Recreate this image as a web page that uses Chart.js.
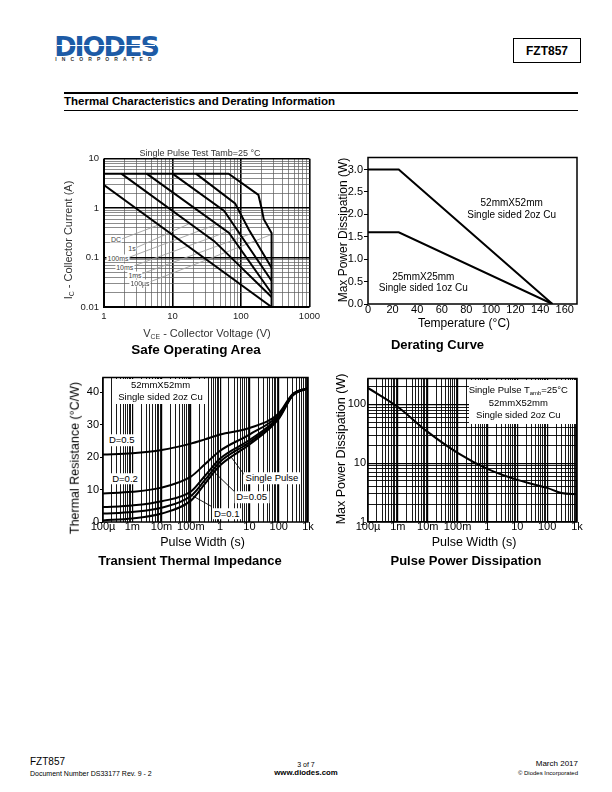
<!DOCTYPE html>
<html><head><meta charset="utf-8"><title>FZT857 Thermal Characteristics</title>
<script src="https://cdn.jsdelivr.net/npm/chart.js@4.4.1/dist/chart.umd.min.js"></script>
<style>
html,body{margin:0;padding:0;background:#fff;}
body{position:relative;width:612px;height:792px;overflow:hidden;font-family:"Liberation Sans",Arial,Helvetica,sans-serif;color:#000;}
canvas{position:absolute;}
.t{position:absolute;white-space:nowrap;line-height:1;}
.r{position:absolute;}
sub{font-size:62%;vertical-align:-0.3em;line-height:0;}
</style></head><body>
<script>
// ================= DATA =================
// Safe Operating Area: VCE (V) / IC (A)
const soaVceDC = [1, 280];
const soaIcDC = [2.93, 0.01];
const soaVce1s = [1.79, 40.7, 280];
const soaIc1s = [5, 0.215, 0.016];
const soaVce100ms = [4.2, 67, 280];
const soaIc100ms = [5, 0.316, 0.019];
const soaVce10ms = [10, 57, 280];
const soaIc10ms = [5, 0.88, 0.034];
const soaVce1ms = [22, 82, 130, 280];
const soaIc1ms = [5, 1.25, 0.37, 0.062];
const soaVce100us = [1, 66, 180, 200, 215, 280, 280];
const soaIc100us = [5, 5, 1.85, 1.0, 0.6, 0.316, 0.01];
const soaCurveNames = ['DC', '1s', '100ms', '10ms', '1ms', '100µs'];
const soaLeaderVce = [[1.8, 6.3], [2.88, 17.9], [2.21, 44.6], [2.52, 85], [3.29, 141], [4.6, 280]];
const soaLeaderIc = [[0.237, 0.46], [0.156, 0.49], [0.0986, 0.474], [0.0652, 0.389], [0.0451, 0.306], [0.0319, 0.294]];
const soaXTickLabels = ['1', '10', '100', '1000'];
const soaYTickLabels = ['0.01', '0.1', '1', '10'];

// Derating curve: temperature (°C) / max power (W)
const derTemp = [0, 25, 150];
const der52mm = [3.0, 3.0, 0];
const der25mm = [1.6, 1.6, 0];
const derXTicks = [0, 20, 40, 60, 80, 100, 120, 140, 160];
const derYTicks = [0, 0.5, 1.0, 1.5, 2.0, 2.5, 3.0];

// Transient thermal impedance: pulse width (s) / thermal resistance (°C/W)
const ttiPulse = [1e-4, 1e-3, 1e-2, 0.1, 0.3, 1, 10, 100, 300, 1000];
const ttiD05 = [20.8, 21.2, 22.2, 24.2, 25.5, 27.0, 29.0, 33.5, 39.5, 41.3];
const ttiD02 = [8.8, 9.3, 10.6, 14.0, 17.8, 22.0, 27.0, 33.0, 39.3, 41.3];
const ttiD01 = [4.6, 5.1, 6.4, 9.4, 14.2, 19.6, 25.3, 32.5, 39.2, 41.3];
const ttiD005 = [2.6, 3.1, 4.4, 8.0, 12.9, 18.6, 24.6, 32.2, 39.1, 41.3];
const ttiSingle = [0.5, 1.1, 2.6, 6.6, 11.8, 17.5, 23.9, 31.8, 39.0, 41.3];
const ttiLeaderX = [[2.4, 6.8], [0.7, 3.4], [0.082, 0.51]];
const ttiLeaderY = [[20.0, 14.5], [15.0, 9.0], [8.8, 4.8]];
const ttiYTicks = [0, 10, 20, 30, 40];
const pulseTickLabels = ['100µ', '1m', '10m', '100m', '1', '10', '100', '1k'];

// Pulse power dissipation: pulse width (s) / max power (W)
const ppdPulse = [1e-4, 1e-3, 1e-2, 0.1, 1, 10, 100, 300, 1000];
const ppdPower = [190, 90, 34, 15, 8.0, 5.2, 3.8, 3.1, 2.95];
const ppdYTickLabels = ['1', '10', '100'];

// ================= HELPERS =================
Chart.defaults.font.family = '"Liberation Sans", Arial, Helvetica, sans-serif';
Chart.defaults.color = '#000';

const isDecade = v => Math.abs(Math.log10(v) - Math.round(Math.log10(v))) < 1e-6;
function logTickValues(minExp, maxExp, maxVal) {
  const t = [];
  for (let e = minExp; e < maxExp; e++) for (let m = 1; m < 10; m++) t.push(parseFloat((m * Math.pow(10, e)).toPrecision(6)));
  t.push(Math.pow(10, maxExp));
  return t.filter(v => v <= maxVal * 1.0001);
}
function decLabel(v, minExp, labels) {
  if (!isDecade(v)) return '';
  const i = Math.round(Math.log10(v)) - minExp;
  return labels[i] !== undefined ? labels[i] : '';
}
const pts = (xs, ys) => xs.map((x, i) => ({ x: x, y: ys[i] }));
function curve(xs, ys, extra) {
  return Object.assign({ data: pts(xs, ys), showLine: true, borderColor: '#000', borderWidth: 2, pointRadius: 0, fill: false, tension: 0 }, extra || {});
}

const framePlugin = {
  id: 'frame',
  beforeDatasetsDraw(chart, args, opts) {
    const a = chart.chartArea, ctx = chart.ctx;
    ctx.save();
    ctx.strokeStyle = '#000';
    if (opts.sides === 'lb') {
      ctx.lineWidth = 2;
      ctx.beginPath();
      ctx.moveTo(a.left, a.top); ctx.lineTo(a.left, a.bottom); ctx.lineTo(a.right, a.bottom);
      ctx.stroke();
    } else {
      ctx.lineWidth = opts.w || 1.5;
      ctx.strokeRect(a.left, a.top, a.right - a.left, a.bottom - a.top);
    }
    ctx.restore();
  }
};

function makeChart(area, leftW, bottomH, padT, padR, datasets, scales, frameOpts) {
  const cv = document.createElement('canvas');
  const L = area[0] - leftW, T = area[1] - padT;
  const W = area[2] - area[0] + leftW + padR, H = area[3] - area[1] + padT + bottomH;
  cv.width = W; cv.height = H;
  cv.style.left = L + 'px'; cv.style.top = T + 'px';
  cv.style.width = W + 'px'; cv.style.height = H + 'px';
  document.body.appendChild(cv);
  scales.x.afterFit = s => { s.height = bottomH; };
  scales.y.afterFit = s => { s.width = leftW; };
  return new Chart(cv, {
    type: 'scatter',
    data: { datasets: datasets },
    options: {
      responsive: false, animation: false, devicePixelRatio: 1,
      layout: { padding: { left: 0, top: padT, right: padR, bottom: 0 } },
      plugins: { legend: { display: false }, tooltip: { enabled: false }, frame: frameOpts },
      scales: scales
    },
    plugins: [framePlugin]
  });
}

function txt(html, cx, cy, css, rot) {
  const d = document.createElement('div');
  d.className = 't';
  d.innerHTML = html;
  d.style.cssText += css || '';
  d.style.left = cx + 'px'; d.style.top = cy + 'px';
  d.style.transform = 'translate(-50%,-50%)' + (rot ? ' rotate(-90deg)' : '');
  document.body.appendChild(d);
  return d;
}
function ltxt(html, x, cy, css, anchorRight) {
  const d = txt(html, x, cy, css);
  d.style.transform = anchorRight ? 'translate(-100%,-50%)' : 'translate(0,-50%)';
  return d;
}
function rect(x, y, w, h, css) {
  const d = document.createElement('div');
  d.className = 'r';
  d.style.cssText = 'left:' + x + 'px;top:' + y + 'px;width:' + w + 'px;height:' + h + 'px;' + (css || '');
  document.body.appendChild(d);
  return d;
}

// ================= SAFE OPERATING AREA =================
const soaXT = logTickValues(0, 3, 1000), soaYT = logTickValues(-2, 1, 10);
const soaGrid = {
  color: c => (c.tick && isDecade(c.tick.value)) ? '#000' : '#5a5a5a',
  lineWidth: c => (c.tick && isDecade(c.tick.value)) ? 1.6 : 0.7,
  drawTicks: false
};
const soaSets = [
  curve(soaVceDC, soaIcDC), curve(soaVce1s, soaIc1s), curve(soaVce100ms, soaIc100ms),
  curve(soaVce10ms, soaIc10ms), curve(soaVce1ms, soaIc1ms), curve(soaVce100us, soaIc100us)
];
soaLeaderVce.forEach((xs, i) => soaSets.push(curve(xs, soaLeaderIc[i], { borderColor: '#a0a0a0', borderWidth: 0.9 })));
makeChart([104, 157, 311, 307], 40, 22, 8, 14, soaSets, {
  x: { type: 'logarithmic', min: 1, max: 1000,
       afterBuildTicks: s => { s.ticks = soaXT.map(v => ({ value: v })); },
       ticks: { autoSkip: false, maxRotation: 0, minRotation: 0, padding: 5, color: '#222', font: { size: 9.5, lineHeight: 1 }, callback: v => decLabel(v, 0, soaXTickLabels) },
       grid: soaGrid, border: { display: false } },
  y: { type: 'logarithmic', min: 0.01, max: 10,
       afterBuildTicks: s => { s.ticks = soaYT.map(v => ({ value: v })); },
       ticks: { autoSkip: false, padding: 5, color: '#222', font: { size: 9.5, lineHeight: 1 }, callback: v => decLabel(v, -2, soaYTickLabels) },
       grid: soaGrid, border: { display: false } }
}, { sides: 'lb' });

// ================= DERATING CURVE =================
makeChart([368, 157, 577, 304], 30, 16, 6, 6, [
  curve(derTemp, der52mm), curve(derTemp, der25mm)
], {
  x: { type: 'linear', min: 0, max: 170,
       afterBuildTicks: s => { s.ticks = derXTicks.map(v => ({ value: v })); },
       ticks: { autoSkip: false, maxRotation: 0, padding: 0, font: { size: 11, lineHeight: 1 }, callback: v => String(v) },
       grid: { display: false, drawTicks: false }, border: { display: false } },
  y: { type: 'linear', min: 0, max: 3.27,
       afterBuildTicks: s => { s.ticks = derYTicks.map(v => ({ value: v })); },
       ticks: { autoSkip: false, padding: 1, font: { size: 11, lineHeight: 1 }, callback: v => Number(v).toFixed(1) },
       grid: { drawOnChartArea: false, drawTicks: true, tickLength: 4, color: '#000', lineWidth: 1 }, border: { display: false } }
}, { w: 1.5 });

// ================= TRANSIENT THERMAL IMPEDANCE =================
const pulseXT = logTickValues(-4, 3, 1000);
const pulseGrid = { color: '#000', lineWidth: c => (c.tick && isDecade(c.tick.value)) ? 1.2 : 0.9, drawTicks: false };
const ttiSets = [
  curve(ttiPulse, ttiD05, { cubicInterpolationMode: 'monotone' }),
  curve(ttiPulse, ttiD02, { cubicInterpolationMode: 'monotone' }),
  curve(ttiPulse, ttiD01, { cubicInterpolationMode: 'monotone' }),
  curve(ttiPulse, ttiD005, { cubicInterpolationMode: 'monotone' }),
  curve(ttiPulse, ttiSingle, { cubicInterpolationMode: 'monotone' })
];
ttiLeaderX.forEach((xs, i) => ttiSets.push(curve(xs, ttiLeaderY[i], { borderWidth: 0.9 })));
makeChart([103, 377, 308, 522], 26, 16, 6, 10, ttiSets, {
  x: { type: 'logarithmic', min: 1e-4, max: 1000,
       afterBuildTicks: s => { s.ticks = pulseXT.map(v => ({ value: v })); },
       ticks: { autoSkip: false, maxRotation: 0, minRotation: 0, padding: -1, font: { size: 11, lineHeight: 1 }, callback: v => decLabel(v, -4, pulseTickLabels) },
       grid: pulseGrid, border: { display: false } },
  y: { type: 'linear', min: 0, max: 44.6,
       afterBuildTicks: s => { s.ticks = ttiYTicks.map(v => ({ value: v })); },
       ticks: { autoSkip: false, padding: 1, font: { size: 11, lineHeight: 1 }, callback: v => String(v) },
       grid: { drawOnChartArea: false, drawTicks: true, tickLength: 3, color: '#000', lineWidth: 1 }, border: { display: false } }
}, { w: 1.5 });

// ================= PULSE POWER DISSIPATION =================
const ppdYT = logTickValues(0, 3, 275);
makeChart([368, 377, 577, 522], 30, 16, 6, 10, [
  curve(ppdPulse, ppdPower, { cubicInterpolationMode: 'monotone' })
], {
  x: { type: 'logarithmic', min: 1e-4, max: 1000,
       afterBuildTicks: s => { s.ticks = pulseXT.map(v => ({ value: v })); },
       ticks: { autoSkip: false, maxRotation: 0, minRotation: 0, padding: -1, font: { size: 11, lineHeight: 1 }, callback: v => decLabel(v, -4, pulseTickLabels) },
       grid: pulseGrid, border: { display: false } },
  y: { type: 'logarithmic', min: 1, max: 275,
       afterBuildTicks: s => { s.ticks = ppdYT.map(v => ({ value: v })); },
       ticks: { autoSkip: false, padding: 2, font: { size: 11, lineHeight: 1 }, callback: v => decLabel(v, 0, ppdYTickLabels) },
       grid: pulseGrid, border: { display: false } }
}, { w: 1.5 });

// ================= PAGE TEXT =================
// header
txt('DIODES', 106, 45.5, 'font:bold 27px "DejaVu Sans",sans-serif;color:#1d5ba6;letter-spacing:-2px;');
rect(57, 44.6, 98, 1.1, 'background:#fff;');
txt('INCORPORATED', 106, 58.5, 'font:bold 5px "Liberation Sans",sans-serif;color:#333;letter-spacing:5.1px;');
rect(513, 38, 68, 25, 'border:1.5px solid #000;box-sizing:border-box;');
txt('FZT857', 547, 50.5, 'font:bold 12px "Liberation Sans",sans-serif;');
rect(64, 91.5, 514, 2.5, 'background:#000;');
ltxt('Thermal Characteristics and Derating Information', 64, 101, 'font:bold 11.5px "Liberation Sans",sans-serif;');
rect(64, 109.5, 514, 1, 'background:#000;');

// SOA texts
txt('Single Pulse Test Tamb=25 °C', 200, 152.5, 'font-size:9px;color:#333;background:#fff;padding:0 2px;');
const soaLabelPos = [[116, 239], [132, 248], [118, 258], [124.7, 267.3], [135, 275], [140, 282.7]];
soaCurveNames.forEach((n, i) => txt(n, soaLabelPos[i][0], soaLabelPos[i][1], 'font-size:7px;color:#444;background:#fff;padding:0 1px;'));
txt('I<sub>C</sub> - Collector Current (A)', 68, 240, 'font-size:11px;color:#333;', true);
txt('V<sub>CE</sub> - Collector Voltage (V)', 207, 332.5, 'font-size:11px;color:#333;');
txt('Safe Operating Area', 196, 349.5, 'font-weight:bold;font-size:13.5px;');

// Derating texts
txt('52mmX52mm', 511.7, 202.7, 'font-size:10px;background:#fff;');
txt('Single sided 2oz Cu', 511.7, 215, 'font-size:10px;background:#fff;');
txt('25mmX25mm', 423.3, 276.7, 'font-size:10px;');
txt('Single sided 1oz Cu', 423.3, 287.5, 'font-size:10px;');
txt('Max Power Dissipation (W)', 342.5, 230, 'font-size:12px;', true);
txt('Temperature (°C)', 464, 323.3, 'font-size:12px;');
txt('Derating Curve', 437.5, 343.5, 'font-weight:bold;font-size:13px;');

// TTI texts
rect(115, 378.5, 92, 25, 'background:#fff;');
txt('52mmX52mm', 160.5, 385, 'font-size:9.5px;');
txt('Single sided 2oz Cu', 160.5, 397.3, 'font-size:9.5px;');
txt('D=0.5', 121.7, 440.3, 'font-size:9.5px;background:#fff;padding:1px 2px;');
txt('D=0.2', 125, 478.7, 'font-size:9.5px;background:#fff;padding:1px 2px;');
txt('Single Pulse', 272, 478.3, 'font-size:9.5px;background:#fff;padding:1px 2px;');
txt('D=0.05', 251.7, 497, 'font-size:9.5px;background:#fff;padding:1px 2px;');
txt('D=0.1', 226.7, 513.7, 'font-size:9.5px;background:#fff;padding:1px 2px;');
txt('Thermal Resistance (°C/W)', 75, 458, 'font-size:12.5px;', true);
txt('Pulse Width (s)', 202.5, 541.7, 'font-size:12.5px;');
txt('Transient Thermal Impedance', 190, 559.5, 'font-weight:bold;font-size:13px;');

// PPD texts
rect(469, 379.5, 107, 44, 'background:#fff;');
txt('Single Pulse T<sub>amb</sub>=25°C', 518.3, 390, 'font-size:9.5px;');
txt('52mmX52mm', 518.3, 403.3, 'font-size:9.5px;');
txt('Single sided 2oz Cu', 518.3, 415, 'font-size:9.5px;');
txt('Max Power Dissipation (W)', 341, 449, 'font-size:12.5px;', true);
txt('Pulse Width (s)', 474, 541.7, 'font-size:12.5px;');
txt('Pulse Power Dissipation', 466, 560, 'font-weight:bold;font-size:13px;');

// footer
ltxt('FZT857', 30, 762, 'font-size:10px;');
ltxt('Document Number DS33177 Rev. 9 - 2', 30, 773, 'font-size:7px;');
txt('3 of 7', 306, 763.5, 'font-size:7px;');
txt('www.diodes.com', 306, 773, 'font-weight:bold;font-size:7.8px;');
ltxt('March 2017', 578, 764, 'font-size:8px;', true);
ltxt('© Diodes Incorporated', 578, 772.5, 'font-size:6px;', true);
</script>
</body></html>
